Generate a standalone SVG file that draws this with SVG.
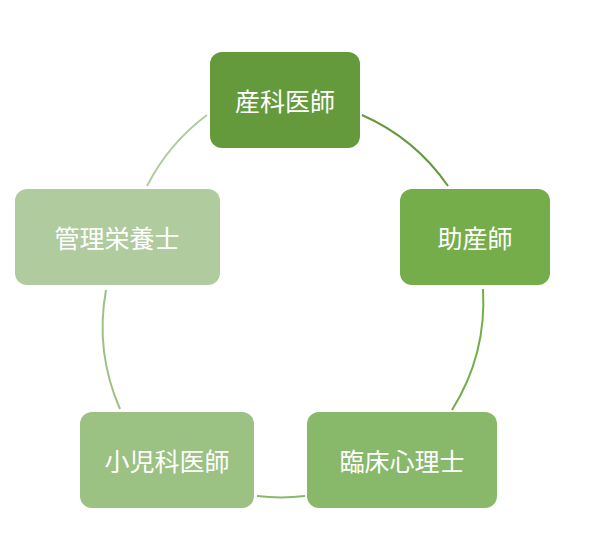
<svg xmlns="http://www.w3.org/2000/svg" width="600" height="550" viewBox="0 0 600 550">
<style>
.t{font-family:"Noto Sans CJK JP",sans-serif;font-size:25px;fill:#fff;text-anchor:middle;dominant-baseline:central}
.c{fill:none;stroke-width:2}
</style>
<rect width="600" height="550" fill="#fff"/>
<g id="connectors">
<path class="c" stroke="#659a3c" d="M362,115 A205,205 0 0 1 448,186"/>
<path class="c" stroke="#74ad4a" d="M483,289 A205,205 0 0 1 452,410"/>
<path class="c" stroke="#88b86a" d="M305,496 A205,205 0 0 1 257,496"/>
<path class="c" stroke="#9bc183" d="M120,409 A205,205 0 0 1 106,290"/>
<path class="c" stroke="#b0cb9e" d="M147,186 A205,205 0 0 1 207,115"/>
</g>
<g id="n1"><rect x="210" y="52" width="150" height="96" rx="12" fill="#659a3c"/><text class="t" x="285" y="100">産科医師</text></g>
<g id="n2"><rect x="400" y="189" width="150" height="96" rx="12" fill="#74ad4a"/><text class="t" x="475" y="237">助産師</text></g>
<g id="n3"><rect x="307" y="412" width="190" height="96" rx="12" fill="#88b86a"/><text class="t" x="402" y="460">臨床心理士</text></g>
<g id="n4"><rect x="80" y="412" width="174" height="96" rx="12" fill="#9bc183"/><text class="t" x="167" y="460">小児科医師</text></g>
<g id="n5"><rect x="15" y="189" width="205" height="96" rx="12" fill="#b0cb9e"/><text class="t" x="117" y="237">管理栄養士</text></g>
</svg>
